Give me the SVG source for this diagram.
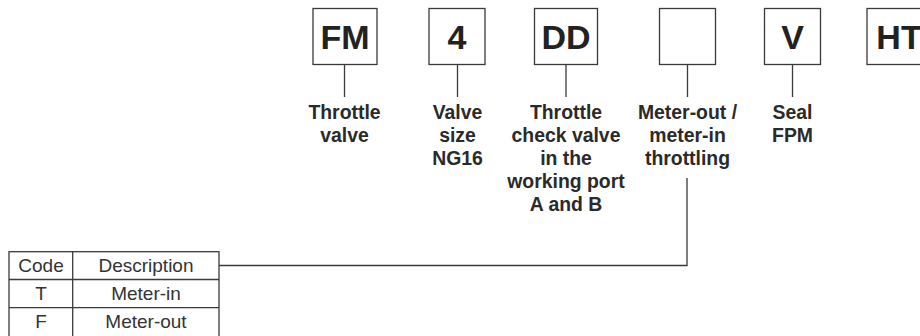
<svg xmlns="http://www.w3.org/2000/svg" width="920" height="336" viewBox="0 0 920 336">
<style>
.box{fill:#fff;stroke:#3a3a3a;stroke-width:1.3}
.code{font-family:"Liberation Sans",Arial,sans-serif;font-weight:bold;font-size:34px;fill:#222;text-anchor:middle}
.lbl{font-family:"Liberation Sans",Arial,sans-serif;font-weight:bold;font-size:19.4px;fill:#2a2a2a;text-anchor:middle}
.tbl{font-family:"Liberation Sans",Arial,sans-serif;font-size:19px;fill:#333;text-anchor:middle}
.ln{fill:none;stroke:#3a3a3a;stroke-width:1.3}
</style>
<rect width="920" height="336" fill="#fff"/>
<g id="connectors">
<line class="ln" x1="344.5" y1="65" x2="344.5" y2="97"/>
<line class="ln" x1="457.5" y1="65" x2="457.5" y2="97"/>
<line class="ln" x1="566" y1="65" x2="566" y2="97"/>
<line class="ln" x1="687.5" y1="65" x2="687.5" y2="97"/>
<line class="ln" x1="792.5" y1="65" x2="792.5" y2="97"/>
<polyline class="ln" points="687,178 687,265.5 219,265.5"/>
</g>
<g id="node-fm">
<rect class="box" x="313" y="8.5" width="64" height="56"/>
<text class="code" x="345" y="49">FM</text>
<text class="lbl" x="344.5" y="119.3">Throttle</text>
<text class="lbl" x="344.5" y="142">valve</text>
</g>
<g id="node-4">
<rect class="box" x="429" y="8.5" width="56" height="56"/>
<text class="code" x="457" y="49">4</text>
<text class="lbl" x="457.5" y="119.3">Valve</text>
<text class="lbl" x="457.5" y="142">size</text>
<text class="lbl" x="457.5" y="164.7">NG16</text>
</g>
<g id="node-dd">
<rect class="box" x="534.5" y="8.5" width="63" height="56"/>
<text class="code" x="566" y="49">DD</text>
<text class="lbl" x="566" y="119.3">Throttle</text>
<text class="lbl" x="566" y="142">check valve</text>
<text class="lbl" x="566" y="164.7">in the</text>
<text class="lbl" x="566" y="187.7">working port</text>
<text class="lbl" x="566" y="210.7">A and B</text>
</g>
<g id="node-meter">
<rect class="box" x="659.5" y="8.5" width="56" height="56"/>
<text class="lbl" x="687.5" y="119.3">Meter-out /</text>
<text class="lbl" x="687.5" y="142">meter-in</text>
<text class="lbl" x="687.5" y="164.7">throttling</text>
</g>
<g id="node-v">
<rect class="box" x="764.5" y="8.5" width="56" height="56"/>
<text class="code" x="792.5" y="49">V</text>
<text class="lbl" x="792.5" y="119.3">Seal</text>
<text class="lbl" x="792.5" y="142">FPM</text>
</g>
<g id="node-ht">
<rect class="box" x="867" y="8.5" width="64" height="56"/>
<text class="code" x="899" y="49">HT</text>
</g>
<g id="table">
<rect class="box" x="9" y="251.7" width="210" height="86"/>
<line class="ln" x1="72.7" y1="251.7" x2="72.7" y2="337"/>
<line class="ln" x1="9" y1="279.5" x2="219" y2="279.5"/>
<line class="ln" x1="9" y1="307.7" x2="219" y2="307.7"/>
<text class="tbl" x="41" y="272">Code</text>
<text class="tbl" x="146" y="272">Description</text>
<text class="tbl" x="41" y="300.3">T</text>
<text class="tbl" x="146" y="300.3">Meter-in</text>
<text class="tbl" x="41" y="328.3">F</text>
<text class="tbl" x="146" y="328.3">Meter-out</text>
</g>
</svg>
